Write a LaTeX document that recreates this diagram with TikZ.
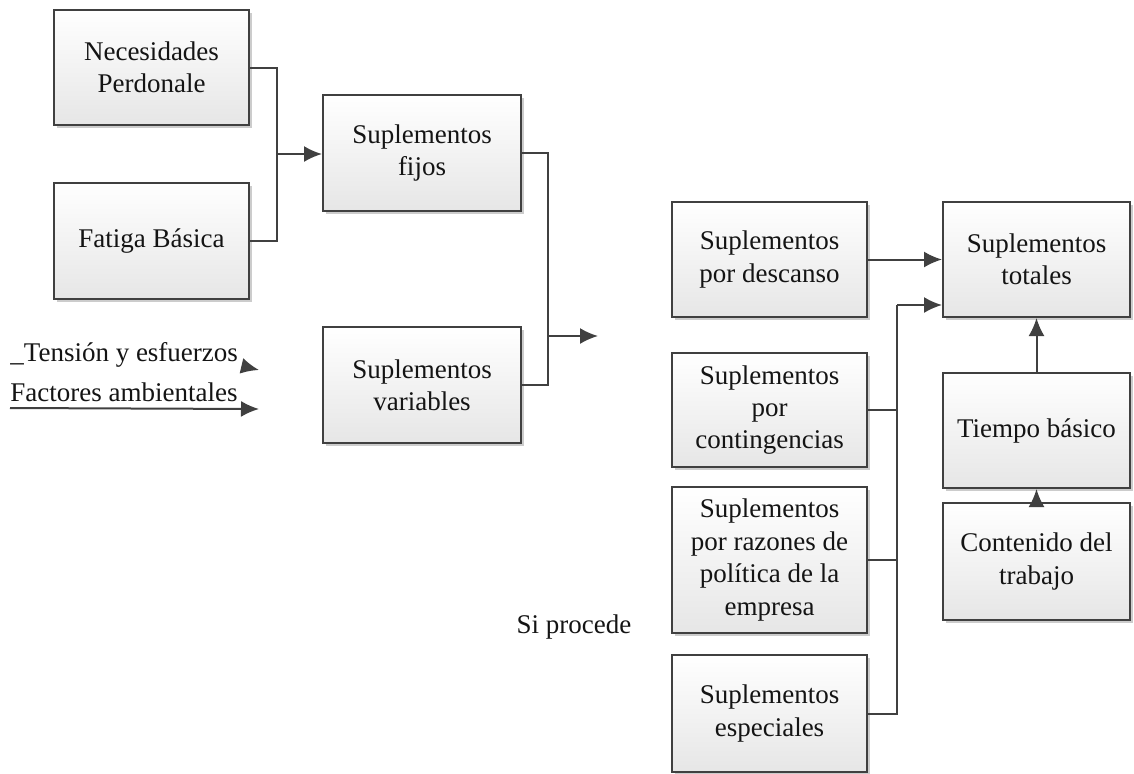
\documentclass[tikz,border=0pt]{standalone}
\usepackage{fontspec}
\setmainfont{Liberation Serif}
\usetikzlibrary{arrows.meta,shadows}
\definecolor{linec}{HTML}{404040}
\definecolor{boxbot}{HTML}{E6E6E6}
\definecolor{txt}{HTML}{141414}
\newcommand{\bxfont}{\fontsize{13.5}{16.2}\selectfont}
\begin{document}
\begin{tikzpicture}[x=0.5pt,y=-0.5pt,
  box/.style={draw=linec, line width=1pt, top color=white, bottom color=boxbot,
    drop shadow={shadow xshift=1.3pt, shadow yshift=-1.3pt, fill=black!40, opacity=0.5},
    align=center, inner sep=2pt, font=\bxfont, text=txt},
  arr/.style={draw=linec, line width=1pt, -{Latex[length=9pt,width=8pt]}},
  ln/.style={draw=linec, line width=1pt},
  lbl/.style={font=\bxfont, text=txt, inner sep=0pt}]
\useasboundingbox (0,0) rectangle (1134,773);
% left boxes
\node[box, minimum width=97.5pt, minimum height=57.5pt] (n1) at (151.5,67.5) {Necesidades\\Perdonale};
\node[box, minimum width=97.5pt, minimum height=58pt] (n2) at (151.5,241) {Fatiga Básica};
\node[box, minimum width=99pt, minimum height=58pt] (fijos) at (422,153) {Suplementos\\fijos};
\node[box, minimum width=99pt, minimum height=58pt] (vari) at (422,385) {Suplementos\\variables};
% right boxes
\node[box, minimum width=97.5pt, minimum height=57.5pt] (desc) at (769.5,259.5) {Suplementos\\por descanso};
\node[box, minimum width=93.5pt, minimum height=57.5pt] (tot) at (1036.5,259.5) {Suplementos\\totales};
\node[box, minimum width=97.5pt, minimum height=57pt] (cont) at (769.5,410) {Suplementos\\por\\contingencias};
\node[box, minimum width=93.5pt, minimum height=57.5pt] (tiem) at (1036.5,430.5) {Tiempo básico};
\node[box, minimum width=97.5pt, minimum height=73pt] (raz) at (769.5,560) {Suplementos\\por razones de\\política de la\\empresa};
\node[box, minimum width=97.5pt, minimum height=58.5pt] (esp) at (769.5,713.5) {Suplementos\\especiales};
\node[box, minimum width=93.5pt, minimum height=58.5pt] (cdt) at (1036.5,561.5) {Contenido del\\trabajo};
% free labels
\node[lbl, anchor=base west] (ten) at (10,361) {\_Tensión y esfuerzos};
\node[lbl, anchor=base west] (fac) at (10,401) {Factores ambientales};
\node[lbl, anchor=base] (si) at (574,633) {Si procede};
% connectors left
\coordinate (j1) at (277,154);
\draw[ln] (n1.east) -| (j1) |- (n2.east);
\draw[arr] (j1) -- (fijos.west |- j1);
\coordinate (j2) at (548,336);
\coordinate (e2) at (598,336);
\draw[ln] (fijos.east) -| (j2) |- (vari.east);
\draw[arr] (j2) -- (e2);
% tension / factores arrows
\coordinate (ta) at (242,366);
\coordinate (tb) at (259,370);
\draw[arr] (ta) -- (tb);
\coordinate (fs) at (10,408);
\coordinate (fe) at (259,409);
\draw[arr] (fs) -- (fe);
% connectors right
\draw[arr] (desc.east) -- (tot.west |- desc.east);
\coordinate (j3) at (897,305);
\draw[arr] (j3) -- (tot.west |- j3);
\draw[ln] (j3) |- (esp.east);
\draw[ln] (cont.east) -- (cont.east -| j3);
\draw[ln] (raz.east) -- (raz.east -| j3);
\draw[arr] (tiem.north) -- (tot.south);
\draw[arr] (cdt.north) -- (tiem.south);
\end{tikzpicture}
\end{document}
